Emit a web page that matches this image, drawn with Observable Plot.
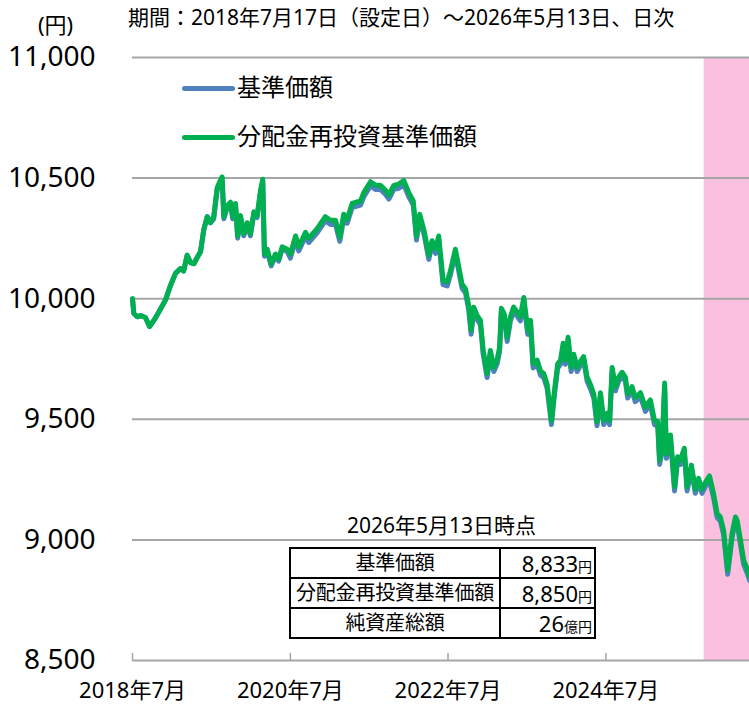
<!DOCTYPE html>
<html><head><meta charset="utf-8">
<script src="https://cdn.jsdelivr.net/npm/d3@7"></script>
<script src="https://cdn.jsdelivr.net/npm/@observablehq/plot@0.6"></script>
<style>
body{margin:0;background:#fff;}
#wrap{position:relative;width:749px;height:704px;overflow:hidden;font-family:"Noto Sans","Noto Sans CJK JP",sans-serif;color:#000;}
#wrap svg{position:absolute;left:0;top:0;}
.ov{position:absolute;white-space:nowrap;line-height:1;}
.sw{position:absolute;height:5px;border-radius:3px;}
table.info{position:absolute;border-collapse:collapse;background:#fff;table-layout:fixed;}
table.info td{border:2px solid #000;padding:0;height:28px;font-size:20px;line-height:1;white-space:nowrap;overflow:visible;}
table.info td.l{text-align:center;width:208px;letter-spacing:-0.2px;}
table.info td.v{text-align:right;width:91px;padding-right:2px;font-size:22px;}
table.info span.u{font-size:14px;}
</style></head>
<body><div id="wrap"></div>
<script>
const dates = ["2018-07-17","2018-07-23","2018-08-08","2018-08-23","2018-09-15","2018-10-04","2018-10-24","2018-11-16","2018-12-17","2019-01-09",
"2019-02-01","2019-02-24","2019-03-11","2019-03-27","2019-04-11","2019-04-27","2019-05-12","2019-05-28","2019-06-12","2019-06-28",
"2019-07-13","2019-07-28","2019-08-13","2019-08-25","2019-09-05","2019-09-13","2019-09-28","2019-10-14","2019-10-24","2019-11-06",
"2019-11-16","2019-11-29","2019-12-14","2019-12-30","2020-01-14","2020-01-30","2020-02-14","2020-03-01","2020-03-11","2020-03-19",
"2020-04-01","2020-04-19","2020-05-09","2020-05-24","2020-06-09","2020-07-02","2020-07-17","2020-08-10","2020-08-25","2020-09-25",
"2020-10-10","2020-11-18","2020-12-26","2021-01-19","2021-02-11","2021-03-03","2021-03-21","2021-04-06","2021-04-29","2021-06-07",
"2021-06-22","2021-07-23","2021-08-15","2021-09-07","2021-09-30","2021-10-16","2021-11-08","2021-12-01","2021-12-24","2022-01-16",
"2022-02-06","2022-02-21","2022-03-08","2022-03-30","2022-04-19","2022-05-04","2022-05-20","2022-06-04","2022-06-24","2022-07-13",
"2022-07-28","2022-08-20","2022-09-05","2022-09-20","2022-10-06","2022-10-21","2022-11-01","2022-11-13","2022-11-29","2022-12-14",
"2022-12-27","2023-01-14","2023-01-29","2023-02-14","2023-03-01","2023-03-13","2023-03-21","2023-04-04","2023-04-17","2023-05-02",
"2023-05-17","2023-06-02","2023-06-17","2023-07-03","2023-07-21","2023-08-03","2023-08-15","2023-09-03","2023-09-18","2023-10-03",
"2023-10-19","2023-11-08","2023-11-22","2023-12-07","2023-12-20","2024-01-01","2024-01-12","2024-01-24","2024-02-07","2024-02-19",
"2024-03-06","2024-03-21","2024-04-05","2024-04-21","2024-05-06","2024-05-22","2024-06-06","2024-06-22","2024-07-07","2024-07-22",
"2024-08-03","2024-08-15","2024-08-30","2024-09-14","2024-09-30","2024-10-15","2024-10-26","2024-11-15","2024-11-30","2024-12-24",
"2025-01-16","2025-02-08","2025-02-27","2025-03-14","2025-03-23","2025-04-03","2025-04-15","2025-04-23","2025-05-12","2025-05-31",
"2025-06-14","2025-06-27","2025-07-15","2025-07-28","2025-08-17","2025-09-04","2025-09-19","2025-10-05","2025-10-25","2025-11-09",
"2025-11-28","2025-12-14","2025-12-29","2026-01-13","2026-02-01","2026-02-21","2026-03-09","2026-03-17","2026-04-01","2026-04-16",
"2026-05-02","2026-05-13"];

// 基準価額
const navValues = [10000,9940,9925,9930,9922,9885,9910,9945,9995,10055,
10105,10125,10115,10180,10150,10145,10170,10195,10285,10340,
10315,10331,10451,10476,10496,10331,10376,10391,10331,10386,
10251,10336,10261,10306,10261,10351,10336,10441,10486,10176,
10196,10136,10176,10156,10206,10196,10168,10243,10198,10258,
10233,10273,10323,10308,10308,10238,10333,10313,10378,10388,
10423,10468,10453,10453,10433,10413,10453,10458,10473,10423,
10388,10243,10333,10258,10163,10223,10188,10243,10058,10053,
10098,10188,10113,10043,10023,9953,9853,9948,9913,9893,
9768,9673,9768,9698,9728,9783,9943,9918,9823,9908,
9948,9928,9908,9988,9853,9893,9713,9728,9683,9673,
9628,9478,9603,9713,9728,9798,9728,9823,9698,9753,
9698,9723,9743,9658,9628,9588,9473,9593,9478,9508,
9478,9698,9618,9658,9678,9658,9588,9618,9573,9593,
9533,9563,9478,9473,9313,9368,9633,9338,9418,9203,
9328,9313,9363,9203,9293,9193,9238,9193,9228,9248,
9173,9093,9078,9023,8858,9008,9078,9063,8983,8898,
8863,8833];

// 分配金再投資基準価額
const reinvestValues = [10000,9940,9925,9930,9922,9885,9910,9945,9995,10055,
10105,10125,10115,10180,10150,10145,10170,10195,10285,10340,
10315,10340,10460,10485,10505,10340,10385,10400,10340,10395,
10260,10345,10270,10315,10270,10360,10345,10450,10495,10185,
10205,10145,10185,10165,10215,10205,10185,10260,10215,10275,
10250,10290,10340,10325,10325,10255,10350,10330,10395,10405,
10440,10485,10470,10470,10450,10430,10470,10475,10490,10440,
10405,10260,10350,10275,10180,10240,10205,10260,10075,10070,
10115,10205,10130,10060,10040,9970,9870,9965,9930,9910,
9785,9690,9785,9715,9745,9800,9960,9935,9840,9925,
9965,9945,9925,10005,9870,9910,9730,9745,9700,9690,
9645,9495,9620,9730,9745,9815,9745,9840,9715,9770,
9715,9740,9760,9675,9645,9605,9490,9610,9495,9525,
9495,9715,9635,9675,9695,9675,9605,9635,9590,9610,
9550,9580,9495,9490,9330,9385,9650,9355,9435,9220,
9345,9330,9380,9220,9310,9210,9255,9210,9245,9265,
9190,9110,9095,9040,8875,9025,9095,9080,9000,8915,
8880,8850];

const yTicks = [8500, 9000, 9500, 10000, 10500, 11000];
const xTickDates = ["2018-07-17", "2020-07-17", "2022-07-17", "2024-07-17"];
const shadeRange = ["2025-10-15", "2026-05-13"];
const seriesNames = ["基準価額", "分配金再投資基準価額"];
const seriesColors = ["#4F81BD", "#00B050"];
const titleText = "期間：2018年7月17日（設定日）～2026年5月13日、日次";
const unitText = "(円)";
const tableTitle = "2026年5月13日時点";
const tableLabels = ["基準価額", "分配金再投資基準価額", "純資産総額"];
const tableValues = ["8,833", "8,850", "26"];
const tableUnits = ["円", "円", "億円"];

const parse = d3.utcParse("%Y-%m-%d");
const rows = dates.map((d, i) => ({date: parse(d), nav: navValues[i], reinvest: reinvestValues[i]}));
const start = rows[0].date, end = rows[rows.length - 1].date;
const yMin = yTicks[0], yMax = yTicks[yTicks.length - 1];
const fontStack = '"Noto Sans","Noto Sans CJK JP",sans-serif';

const chart = Plot.plot({
  width: 749, height: 704,
  marginLeft: 132, marginRight: 0, marginTop: 57, marginBottom: 44,
  style: {fontFamily: fontStack, background: "transparent", color: "#000", overflow: "visible"},
  x: {type: "utc", domain: [start, end]},
  y: {domain: [yMin, yMax]},
  marks: [
    Plot.rect([shadeRange], {x1: d => parse(d[0]), x2: d => parse(d[1]), y1: yMin, y2: yMax, fill: "#FBC0E0"}),
    Plot.ruleY(yTicks, {stroke: "#A6A6A6", strokeWidth: 2}),
    Plot.axisX({ticks: xTickDates.map(parse), tickSize: 7, dy: -7, tickFormat: () => "", stroke: "#A6A6A6", strokeWidth: 1.5, label: null}),
    Plot.axisX({ticks: xTickDates.map(parse), tickSize: 0, tickPadding: 22, fontSize: 22, label: null,
      tickFormat: d => `${d.getUTCFullYear()}年${d.getUTCMonth() + 1}月`}),
    Plot.axisY({ticks: yTicks, tickSize: 0, tickPadding: 37, fontSize: 28, label: null, tickFormat: d3.format(",")}),
    Plot.lineY(rows, {x: "date", y: "nav", stroke: seriesColors[0], strokeWidth: 5, strokeLinejoin: "round", strokeLinecap: "round"}),
    Plot.lineY(rows, {x: "date", y: "reinvest", stroke: seriesColors[1], strokeWidth: 5, strokeLinejoin: "round", strokeLinecap: "round"})
  ]
});

const wrap = document.getElementById("wrap");
wrap.appendChild(chart);

function addText(txt, left, top, size, extra) {
  const el = document.createElement("div");
  el.className = "ov";
  el.textContent = txt;
  el.style.left = left + "px";
  el.style.top = top + "px";
  el.style.fontSize = size + "px";
  if (extra) Object.assign(el.style, extra);
  wrap.appendChild(el);
  return el;
}

addText(titleText, 128, 7, 21);
addText(unitText, 38, 13, 22);

// legend
const legendY = [88, 137];
seriesNames.forEach((name, i) => {
  const sw = document.createElement("div");
  sw.className = "sw";
  sw.style.left = "182px";
  sw.style.width = "53px";
  sw.style.top = (legendY[i] - 2.5) + "px";
  sw.style.background = seriesColors[i];
  wrap.appendChild(sw);
  addText(name, 237, legendY[i] - 13, 24);
});

// table
addText(tableTitle, 290, 515, 21, {width: "303px", textAlign: "center"});
const table = document.createElement("table");
table.className = "info";
table.style.left = "289px";
table.style.top = "547px";
tableLabels.forEach((lab, i) => {
  const tr = document.createElement("tr");
  const td1 = document.createElement("td");
  td1.className = "l";
  td1.textContent = lab;
  const td2 = document.createElement("td");
  td2.className = "v";
  td2.appendChild(document.createTextNode(tableValues[i]));
  const u = document.createElement("span");
  u.className = "u";
  u.textContent = tableUnits[i];
  td2.appendChild(u);
  tr.appendChild(td1);
  tr.appendChild(td2);
  table.appendChild(tr);
});
wrap.appendChild(table);
</script>
</body></html>
